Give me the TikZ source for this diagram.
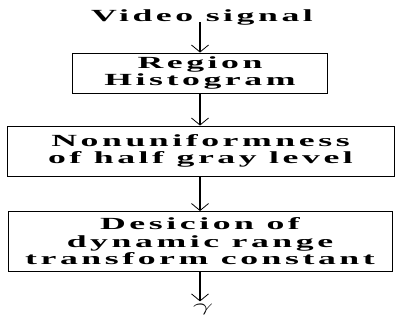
\documentclass[tikz,border=0pt]{standalone}
\usepackage{fontspec}
\usepackage{graphicx}
\usetikzlibrary{arrows.meta}
\newfontfamily\ff{Liberation Serif}[LetterSpace=10]
\newcommand\wl[1]{\scalebox{2.1}[1]{#1}}
\begin{document}
\begin{tikzpicture}[x=1pt,y=-1pt,
  txt/.style={font=\ff\bfseries\fontsize{17}{17.5}\selectfont, align=center, inner sep=0pt},
  procbox/.style={txt, draw, line width=0.9pt},
  arr/.style={line width=1.3pt, -{Straight Barb[length=7pt,width=17pt,line width=0.8pt]}}]
\useasboundingbox (0,0) rectangle (401,323);
\node[txt] (vs) at (202,17) {\wl{Video signal}};
\node[procbox, minimum width=255pt, minimum height=40pt] (b1) at (200,73) {\wl{Region}\\\wl{Histogram}};
\node[procbox, minimum width=387pt, minimum height=50pt] (b2) at (200.5,151) {\wl{Nonuniformness}\\\wl{of half gray level}};
\node[procbox, minimum width=384pt, minimum height=60pt] (b3) at (200,241.5) {\wl{Desicion of}\\\wl{dynamic range}\\\wl{transform constant}};
\node[inner sep=0pt, font=\fontsize{19}{19}\selectfont] (g) at (203,309) {\scalebox{2.1}[1]{$\gamma$}};
\draw[arr] ([yshift=3pt]vs.south -| b1.north) -- (b1.north);
\draw[arr] (b1.south) -- (b1.south |- b2.north);
\draw[arr] (b2.south -| b1.south) -- (b1.south |- b3.north);
\draw[arr] (b3.south -| b1.south) -- ([yshift=2pt]b1.south |- g.north);
\end{tikzpicture}
\end{document}
